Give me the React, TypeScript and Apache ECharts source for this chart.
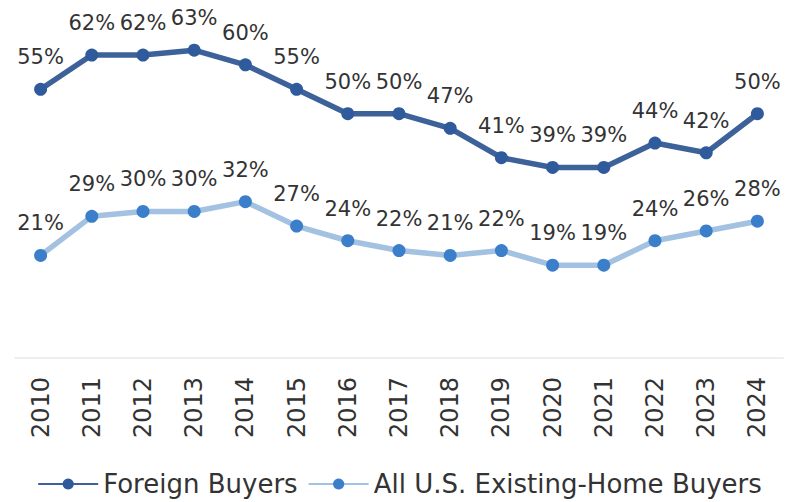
import React, { useEffect, useRef } from "react";
import * as echarts from "echarts";

const years = ["2010","2011","2012","2013","2014","2015","2016","2017","2018","2019","2020","2021","2022","2023","2024"];
const foreignBuyers = [55,62,62,63,60,55,50,50,47,41,39,39,44,42,50];
const allUSBuyers = [21,29,30,30,32,27,24,22,21,22,19,19,24,26,28];
const seriesNames = ["Foreign Buyers", "All U.S. Existing-Home Buyers"];

const FONT = "DejaVu Sans";

export default function App() {
  const ref = useRef<HTMLDivElement>(null);
  useEffect(() => {
    if (!ref.current) return;
    const chart = echarts.init(ref.current, null, { renderer: "svg" });
    const labelCfg = {
      show: true,
      position: "top",
      distance: 15,
      formatter: "{c}%",
      color: "#333333",
      fontFamily: FONT,
      fontSize: 21,
    };
    chart.setOption({
      animation: false,
      backgroundColor: "#ffffff",
      grid: { left: 15, right: 16, top: 16, bottom: 144, containLabel: false },
      legend: {
        bottom: 0,
        left: "center",
        itemWidth: 60,
        itemHeight: 14,
        itemGap: 10,
        textStyle: { color: "#333333", fontFamily: FONT, fontSize: 26 },
        data: seriesNames,
      },
      xAxis: {
        type: "category",
        data: years,
        boundaryGap: true,
        axisLine: { show: true, lineStyle: { color: "#eeeeee", width: 2 } },
        axisTick: { show: false },
        axisLabel: {
          rotate: 90,
          margin: 19,
          color: "#333333",
          fontFamily: FONT,
          fontSize: 24,
          interval: 0,
        },
      },
      yAxis: {
        type: "value",
        min: 0,
        max: 70,
        show: false,
        splitLine: { show: false },
      },
      series: [
        {
          name: seriesNames[0],
          type: "line",
          data: foreignBuyers,
          symbol: "circle",
          symbolSize: 13,
          lineStyle: { color: "#3d6199", width: 5.5 },
          itemStyle: { color: "#2f5b9c" },
          label: labelCfg,
        },
        {
          name: seriesNames[1],
          type: "line",
          data: allUSBuyers,
          symbol: "circle",
          symbolSize: 13,
          lineStyle: { color: "#a3c1e0", width: 5.5 },
          itemStyle: { color: "#3b7fcb" },
          label: labelCfg,
        },
      ],
    });
    return () => chart.dispose();
  }, []);
  return (
    <div
      ref={ref}
      style={{ position: "fixed", left: 0, top: 0, width: 799, height: 502 }}
    />
  );
}
